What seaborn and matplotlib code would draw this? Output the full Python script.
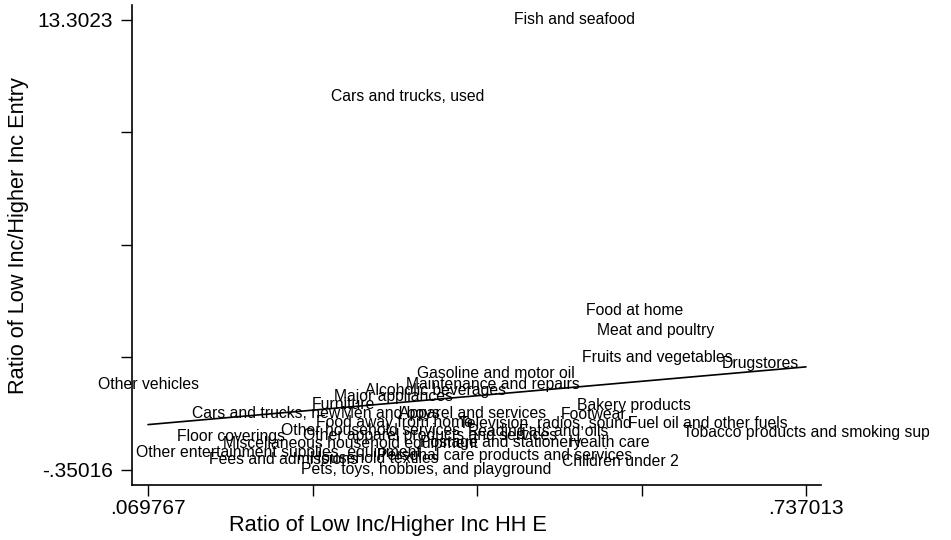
'''
Low vs higher income: entry ratio against household expenditure ratio
'''

import seaborn as sns
import matplotlib.pyplot as plt
import pandas as pd

# categories and the two ratios
categories = [
    "Fish and seafood", "Cars and trucks, used", "Food at home", "Meat and poultry",
    "Fruits and vegetables", "Drugstores", "Other vehicles", "Gasoline and motor oil",
    "Maintenance and repairs", "Alcoholic beverages", "Major appliances", "Furniture",
    "Cars and trucks, new", "Men and boys", "Apparel and services", "Footwear",
    "Bakery products", "Food away from home", "Television, radios, sound",
    "Fuel oil and other fuels", "Tobacco products and smoking sup",
    "Other household services", "Other apparel products and services", "Reading",
    "Fats and oils", "Health care", "Postage and stationery",
    "Personal care products and services", "Pets, toys, hobbies, and playground",
    "Floor coverings", "Other entertainment supplies, equipment", "Fees and admissions",
    "Miscellaneous household equipment", "Household textiles", "Children under 2",
]
hh_ratio = [
    0.5018, 0.3334, 0.5636, 0.5849,
    0.5859, 0.6903, 0.069767, 0.4227,
    0.4196, 0.3608, 0.3182, 0.2675,
    0.1894, 0.3152, 0.3993, 0.5220,
    0.5626, 0.3192, 0.4724,
    0.6376, 0.737013,
    0.2959, 0.3557, 0.4237,
    0.4916, 0.5372, 0.4277,
    0.4318, 0.3517,
    0.1539, 0.2016, 0.2067,
    0.2746, 0.2990, 0.5484,
]
entry_ratio = [
    13.3023, 10.966, 4.473, 3.866,
    3.047, 2.865, 2.228, 2.562,
    2.228, 2.046, 1.864, 1.621,
    1.378, 1.378, 1.348, 1.318,
    1.591, 1.105, 1.045,
    1.045, 0.772,
    0.833, 0.681, 0.802,
    0.802, 0.469, 0.469,
    0.104, -0.35016,
    0.651, 0.195, -0.047,
    0.438, -0.017, -0.108,
]
x_ticks = [0.069767, 0.2366, 0.4034, 0.5702, 0.737013]
x_ticklabels = [".069767", "", "", "", ".737013"]
y_ticks = [-0.35016, 3.0630, 6.4761, 9.8892, 13.3023]
y_ticklabels = ["-.35016", "", "", "", "13.3023"]

df = pd.DataFrame({"name": categories, "hh": hh_ratio, "entry": entry_ratio})

sns.set_style("ticks")
plt.rcParams['font.family'] = ['Liberation Sans', 'DejaVu Sans']
plt.rcParams['text.color'] = 'black'
plt.rcParams['axes.labelcolor'] = 'black'
plt.rcParams['xtick.color'] = 'black'
plt.rcParams['ytick.color'] = 'black'

fig = plt.figure(figsize=(9.51, 5.40), dpi=100)
ax = fig.add_axes([0.1388, 0.1019, 0.7245, 0.8889])

# fitted line
sns.regplot(data=df, x="hh", y="entry", scatter=False, ci=None, ax=ax,
            line_kws={"color": "black", "linewidth": 1.2})

# labels in place of markers
for _, row in df.iterrows():
    ax.text(row["hh"], row["entry"], row["name"], ha="center", va="center",
            fontsize=11.3, color="black", clip_on=False)

ax.set_xlim(0.05354, 0.75222)
ax.set_ylim(-0.8053, 13.757)
ax.set_xticks(x_ticks)
ax.set_xticklabels(x_ticklabels)
ax.set_yticks(y_ticks)
ax.set_yticklabels(y_ticklabels)
ax.tick_params(axis="both", length=8, width=1, colors="black", labelsize=15)
ax.tick_params(axis="y", pad=6)
ax.tick_params(axis="x", pad=2)

ax.set_xlabel("Ratio of Low Inc/Higher Inc HH E", fontsize=15.7, color="black")
ax.set_ylabel("Ratio of Low Inc/Higher Inc Entry", fontsize=15.7, color="black")
ax.xaxis.set_label_coords(0.372, -0.062)
ax.yaxis.set_label_coords(-0.149, 0.52)

sns.despine(ax=ax)
for side in ["left", "bottom"]:
    ax.spines[side].set_color("black")
    ax.spines[side].set_linewidth(1.2)

fig.savefig("out.png", dpi=100, facecolor="white")
